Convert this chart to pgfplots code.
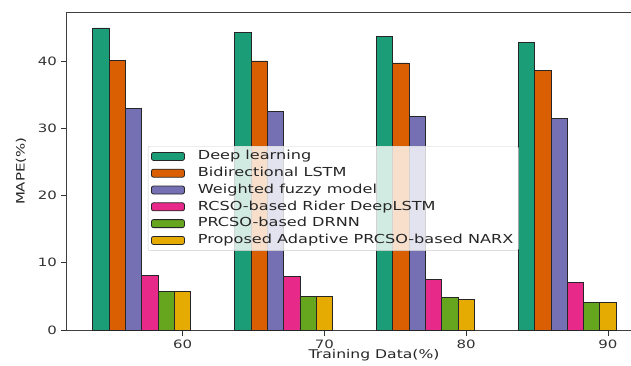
\documentclass[border=0pt]{standalone}
\usepackage{fontspec}
\setmainfont{DejaVu Sans}[FakeStretch=1.3]
\usepackage{pgfplots}
\pgfplotsset{compat=1.18}
\definecolor{c1}{HTML}{1B9E77}
\definecolor{c2}{HTML}{D95F02}
\definecolor{c3}{HTML}{7570B3}
\definecolor{c4}{HTML}{E7298A}
\definecolor{c5}{HTML}{66A61E}
\definecolor{c6}{HTML}{E6AB02}
\pgfplotsset{
  mybar/.style={fill=#1, draw=black!85, line width=0.8pt,
    legend image code/.code={\draw[fill=#1, draw=black!85, fill opacity=1, line width=0.8pt] (0pt,-4pt) rectangle (33pt,4pt);}},
}
\begin{document}
\fontsize{12}{14}\selectfont
\begin{tikzpicture}
\begin{axis}[name=ax, scale only axis, width=575.6pt, height=317.5pt,
  xmin=-0.817, xmax=3.242, ymin=0, ymax=47.2,
  ybar, bar width=0.115,
  xtick={0,1,2,3}, xticklabels={60,70,80,90}, ytick={0,10,20,30,40},
  xtick pos=bottom, ytick pos=left, tick align=outside, major tick length=5.5pt,
  tick style={black!80, line width=0.8pt},
  axis line style={black!75, line width=0.9pt},
  /pgf/number format/assume math mode=true,
  ticklabel style={font=\fontsize{11.5}{13}\selectfont, text=black!80},
  xlabel={Training Data(\%)}, ylabel={MAPE(\%)},
  xlabel style={at={(axis description cs:0.534,0)}, anchor=north, yshift=-15.5pt, text=black!85, font=\fontsize{12}{14}\selectfont},
  ylabel style={at={(axis description cs:-0.0794,0.5)}, anchor=center, text=black!85, font=\fontsize{11.5}{14}\selectfont},
  legend cell align=left,
  legend style={at={(axis description cs:0.141,0.5795)}, anchor=north west,
    draw=black!20, fill=white, fill opacity=0.8, text opacity=1, rounded corners=2pt,
    inner xsep=3pt, inner ysep=2pt, column sep=11pt, row sep=0.4pt,
    nodes={inner sep=2pt, text height=9.5pt, text depth=2.9pt, text=black!85},
    font=\fontsize{12.4}{14}\selectfont},
]
\addplot[mybar=c1, bar shift=-0.575] coordinates {(0,44.9) (1,44.3) (2,43.7) (3,42.7)};
\addplot[mybar=c2, bar shift=-0.46] coordinates {(0,40.1) (1,40.0) (2,39.7) (3,38.6)};
\addplot[mybar=c3, bar shift=-0.345] coordinates {(0,33.0) (1,32.5) (2,31.7) (3,31.4)};
\addplot[mybar=c4, bar shift=-0.23] coordinates {(0,8.1) (1,7.9) (2,7.5) (3,7.1)};
\addplot[mybar=c5, bar shift=-0.115] coordinates {(0,5.7) (1,5.05) (2,4.8) (3,4.1)};
\addplot[mybar=c6, bar shift=0] coordinates {(0,5.7) (1,5.05) (2,4.6) (3,4.1)};
\legend{Deep learning, Bidirectional LSTM, Weighted fuzzy model, RCSO-based Rider DeepLSTM, PRCSO-based DRNN, Proposed Adaptive PRCSO-based NARX}
\end{axis}
\pgfresetboundingbox
\path[use as bounding box] ([shift={(-66.7pt,-35pt)}]ax.south west) rectangle ([shift={(564.3pt,330pt)}]ax.south west);
\end{tikzpicture}
\end{document}
